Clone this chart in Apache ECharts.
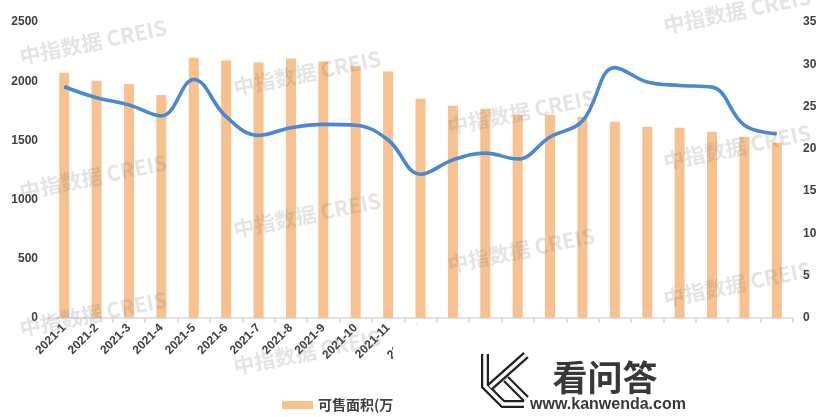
<!DOCTYPE html>
<html>
<head>
<meta charset="utf-8">
<script src="https://cdn.jsdelivr.net/npm/echarts@6/dist/echarts.min.js"></script>
<style>
html,body{margin:0;padding:0;background:#fff;}
#chart{width:827px;height:417px;}
</style>
</head>
<body>
<div id="chart"></div>
<script>
var categories = ['2021-1','2021-2','2021-3','2021-4','2021-5','2021-6','2021-7','2021-8','2021-9','2021-10','2021-11','2021-12',
  '2022-1','2022-2','2022-3','2022-4','2022-5','2022-6','2022-7','2022-8','2022-9','2022-10','2022-11'];
var areaValues = [2072,2004,1976,1883,2199,2174,2157,2191,2166,2131,2081,1852,1793,1768,1717,1717,1700,1658,1616,1607,1573,1531,1481];
var cycleValues = [27.35,26.05,25.2,23.9,28.2,23.8,21.6,22.5,22.9,22.8,21.05,17.0,18.7,19.5,18.8,21.4,23.3,29.6,27.9,27.5,27.3,22.8,21.8];
var seriesNames = ['可售面积(万㎡)','出清周期(月)'];
var watermarkText = '中指数据 CREIS';

var chart = echarts.init(document.getElementById('chart'), null, {renderer:'canvas'});
var labelStyle = {color:'#404040', fontSize:12, fontWeight:'bold', fontFamily:'Liberation Sans'};
function plain(v){ return String(v); }

var wmPos = [[93,42],[93,177],[93,314],[307,73],[307,215],[307,352],[521,112],[521,250],[737,11],[737,147],[737,284]];
var graphics = wmPos.map(function(p){
  return {type:'text', x:p[0], y:p[1], rotation:0.2, z:50, silent:true,
    style:{text:watermarkText, fill:'rgba(120,120,120,0.2)', font:'bold 21px "Noto Sans CJK SC"', align:'center', verticalAlign:'middle'}};
});
graphics.push({type:'rect', shape:{x:393,y:324,width:434,height:93}, style:{fill:'#ffffff'}, z:100, silent:true});
function kStroke(pts, w, c){
  return {type:'polyline', shape:{points:pts}, style:{stroke:c, lineWidth:w, fill:null, lineJoin:'miter'}, z:101, silent:true};
}
var kA = [[485,354],[485,386],[503,404],[524,404]];
var kB = [[490,387],[526,355]];
var kC = [[506,379],[526,399]];
[kA,kB,kC].forEach(function(p){ graphics.push(kStroke(p,8,'#222')); });
[kA,kB,kC].forEach(function(p){ graphics.push(kStroke(p,3.5,'#fff')); });
graphics.push({type:'text', x:605, y:378, z:102, silent:true,
  style:{text:'看问答', fill:'#383838', font:'bold 35px "Noto Sans CJK SC"', align:'center', verticalAlign:'middle'}});
graphics.push({type:'text', x:608, y:405, z:102, silent:true,
  style:{text:'www.kanwenda.com', fill:'#383838', font:'bold 16px "Liberation Sans"', align:'center', verticalAlign:'middle'}});

chart.setOption({
  animation:false,
  backgroundColor:'#fff',
  grid:{left:48, right:34, top:22, bottom:99, containLabel:false},
  legend:{data:seriesNames, left:277, top:393, itemWidth:31, itemHeight:8, itemGap:20, icon:'rect',
    textStyle:{color:'#404040', fontSize:14, fontWeight:'bold', fontFamily:'Noto Sans CJK SC'}},
  xAxis:{type:'category', data:categories, boundaryGap:true,
    axisLine:{lineStyle:{color:'#d9d9d9', width:1.5}},
    axisTick:{show:true, length:5, interval:0, lineStyle:{color:'#d9d9d9', width:1.5}},
    axisLabel:Object.assign({rotate:45, margin:8, interval:function(i){ return i <= 11; }}, labelStyle)},
  yAxis:[
    {type:'value', min:0, max:2500, interval:500, axisLine:{show:false}, axisTick:{show:false}, splitLine:{show:false},
      axisLabel:Object.assign({margin:10, formatter:plain}, labelStyle)},
    {type:'value', min:0, max:35, interval:5, position:'right', axisLine:{show:false}, axisTick:{show:false}, splitLine:{show:false},
      axisLabel:Object.assign({margin:10, formatter:plain}, labelStyle)}
  ],
  series:[
    {name:seriesNames[0], type:'bar', data:areaValues, barWidth:10, yAxisIndex:0, itemStyle:{color:'#f8c190'}},
    {name:seriesNames[1], type:'line', data:cycleValues, yAxisIndex:1, smooth:0.4, symbol:'none',
      lineStyle:{color:'#4a88d2', width:3.6}, itemStyle:{color:'#4a88d2'}}
  ],
  graphic:graphics
});
</script>
</body>
</html>
